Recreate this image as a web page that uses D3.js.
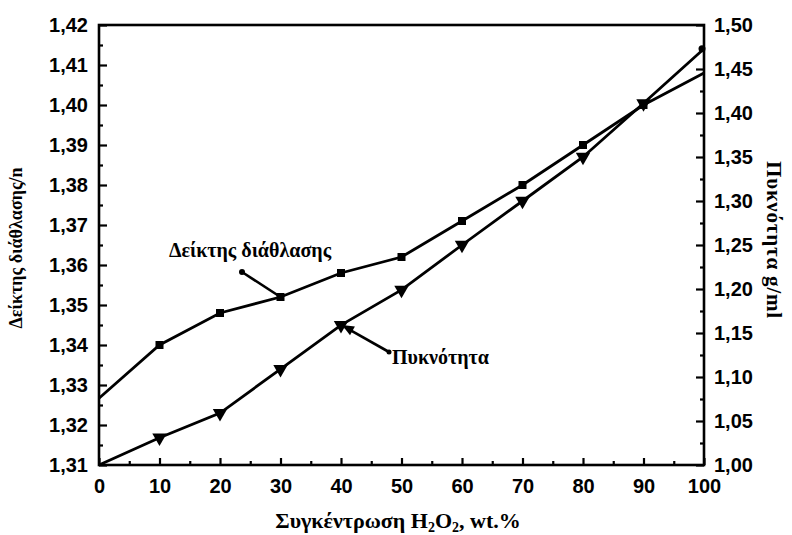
<!DOCTYPE html>
<html>
<head>
<meta charset="utf-8">
<script src="https://cdn.jsdelivr.net/npm/d3@7"></script>
<style>
  html, body { margin: 0; padding: 0; background: #fff; }
  svg { display: block; }
  .tick text { font-family: "Liberation Sans Narrow", "Arial Narrow", "Liberation Sans", Arial, sans-serif; font-weight: bold; font-size: 20px; fill: #000; }
  .serif { font-family: "Liberation Serif", "Times New Roman", serif; font-weight: bold; fill: #000; }
</style>
</head>
<body>
<svg id="chart" width="792" height="535"></svg>
<script>
// ---- data ----
const concentration = [0, 10, 20, 30, 40, 50, 60, 70, 80, 90, 100];
const refractiveIndex = [1.3267, 1.340, 1.348, 1.352, 1.358, 1.362, 1.371, 1.380, 1.390, 1.400, 1.408];
const density = [1.000, 1.031, 1.059, 1.109, 1.159, 1.199, 1.250, 1.300, 1.350, 1.411, 1.473];
const xTicks = [0, 10, 20, 30, 40, 50, 60, 70, 80, 90, 100];
const leftTicks = [1.31, 1.32, 1.33, 1.34, 1.35, 1.36, 1.37, 1.38, 1.39, 1.40, 1.41, 1.42];
const rightTicks = [1.00, 1.05, 1.10, 1.15, 1.20, 1.25, 1.30, 1.35, 1.40, 1.45, 1.50];
const xLabel = "Συγκέντρωση H";
const leftLabel = "Δείκτης διάθλασης/n";
const rightLabel = "Πυκνότητα g/ml";
const riName = "Δείκτης διάθλασης";
const densName = "Πυκνότητα";

// ---- layout ----
const L = 99, R = 704, T = 25, B = 465;
const svg = d3.select("#chart");
const x = d3.scaleLinear().domain([0, 100]).range([L, R]);
const yL = d3.scaleLinear().domain([1.31, 1.42]).range([B, T]);
const yR = d3.scaleLinear().domain([1.00, 1.50]).range([B, T]);
const comma = f => d => d3.format(f)(d).replace(".", ",");

// minor ticks
const xMinor = d3.range(5, 100, 10);
const lMinor = d3.range(0, 11).map(i => 1.315 + i * 0.01);
const rMinor = d3.range(0, 10).map(i => 1.025 + i * 0.05);

function styleAxis(g) {
  g.select(".domain").remove();
  g.selectAll(".tick line").attr("stroke", "#000").attr("stroke-width", 2.2);
}

// x axis
svg.append("g").attr("transform", `translate(0,${B})`)
  .call(d3.axisBottom(x).tickValues(xTicks).tickSizeInner(-7).tickSizeOuter(0).tickPadding(13).tickFormat(d3.format("d")))
  .call(styleAxis)
  .call(g => g.selectAll(".tick text").attr("dy", "0.75em"));
svg.append("g").attr("transform", `translate(0,${B})`)
  .call(d3.axisBottom(x).tickValues(xMinor).tickSizeInner(-4).tickSizeOuter(0).tickFormat(""))
  .call(styleAxis);

// left axis
svg.append("g").attr("transform", `translate(${L},0)`)
  .call(d3.axisLeft(yL).tickValues(leftTicks).tickSizeInner(-8).tickSizeOuter(0).tickPadding(11).tickFormat(comma(".2f")))
  .call(styleAxis);
svg.append("g").attr("transform", `translate(${L},0)`)
  .call(d3.axisLeft(yL).tickValues(lMinor).tickSizeInner(-4).tickSizeOuter(0).tickFormat(""))
  .call(styleAxis);

// right axis
svg.append("g").attr("transform", `translate(${R},0)`)
  .call(d3.axisRight(yR).tickValues(rightTicks).tickSizeInner(-8).tickSizeOuter(0).tickPadding(10).tickFormat(comma(".2f")))
  .call(styleAxis);
svg.append("g").attr("transform", `translate(${R},0)`)
  .call(d3.axisRight(yR).tickValues(rMinor).tickSizeInner(-4).tickSizeOuter(0).tickFormat(""))
  .call(styleAxis);

// frame
svg.append("rect").attr("x", L).attr("y", T).attr("width", R - L).attr("height", B - T)
  .attr("fill", "none").attr("stroke", "#000").attr("stroke-width", 2.6);

// series
const riData = concentration.map((c, i) => [c, refractiveIndex[i]]);
const dData = concentration.map((c, i) => [c, density[i]]);

svg.append("path").datum(riData)
  .attr("fill", "none").attr("stroke", "#000").attr("stroke-width", 2.8)
  .attr("d", d3.line().x(d => x(d[0])).y(d => yL(d[1])));
svg.append("path").datum(dData)
  .attr("fill", "none").attr("stroke", "#000").attr("stroke-width", 2.8)
  .attr("d", d3.line().x(d => x(d[0])).y(d => yR(d[1])));

// square markers (skip endpoints at axis)
svg.append("g").selectAll("rect").data(riData.filter(d => d[0] > 0 && d[0] < 100)).join("rect")
  .attr("x", d => x(d[0]) - 4).attr("y", d => yL(d[1]) - 4)
  .attr("width", 8).attr("height", 8).attr("fill", "#000");
svg.append("circle").attr("cx", x(100) - 2).attr("cy", yR(density[10])).attr("r", 3.5).attr("fill", "#000");

// triangle markers
const tri = d3.symbol().type(d3.symbolTriangle).size(90);
svg.append("g").selectAll("path").data(dData.filter(d => d[0] > 0 && d[0] < 100)).join("path")
  .attr("transform", d => `translate(${x(d[0])},${yR(d[1])}) rotate(180)`)
  .attr("d", tri).attr("fill", "#000");

// annotations
svg.append("text").attr("class", "serif").attr("x", 250).attr("y", 257)
  .attr("text-anchor", "middle").attr("font-size", 20).text(riName);
svg.append("line").attr("x1", 242).attr("y1", 272).attr("x2", x(30)).attr("y2", yL(refractiveIndex[3]))
  .attr("stroke", "#000").attr("stroke-width", 2.6);
svg.append("circle").attr("cx", 242).attr("cy", 272).attr("r", 3).attr("fill", "#000");

svg.append("text").attr("class", "serif").attr("x", 392).attr("y", 364)
  .attr("font-size", 20).text(densName);
svg.append("line").attr("x1", 389).attr("y1", 352).attr("x2", x(40) + 4).attr("y2", yR(density[4]) + 2)
  .attr("stroke", "#000").attr("stroke-width", 2.6);
svg.append("circle").attr("cx", 389).attr("cy", 352).attr("r", 2.5).attr("fill", "#000");
svg.append("path").attr("d", "M0,0 L12,-5 L12,5 Z").attr("fill", "#000")
  .attr("transform", `translate(${x(40) + 1},${yR(density[4])}) rotate(${Math.atan2(352 - yR(density[4]), 389 - x(40)) * 180 / Math.PI})`);

// axis titles
const xt = svg.append("text").attr("class", "serif").attr("x", 398).attr("y", 528)
  .attr("text-anchor", "middle").attr("font-size", 22);
xt.append("tspan").text(xLabel);
xt.append("tspan").attr("font-size", 14).attr("dy", 4).text("2");
xt.append("tspan").attr("dy", -4).text("O");
xt.append("tspan").attr("font-size", 14).attr("dy", 4).text("2");
xt.append("tspan").attr("dy", -4).text(", wt.%");

svg.append("text").attr("class", "serif").attr("font-size", 18)
  .attr("transform", "translate(22,248) rotate(-90)").attr("text-anchor", "middle").text(leftLabel);
svg.append("text").attr("class", "serif").attr("font-size", 21).attr("letter-spacing", 0.8)
  .attr("transform", "translate(767,240) rotate(90)").attr("text-anchor", "middle").text(rightLabel);
</script>
</body>
</html>
